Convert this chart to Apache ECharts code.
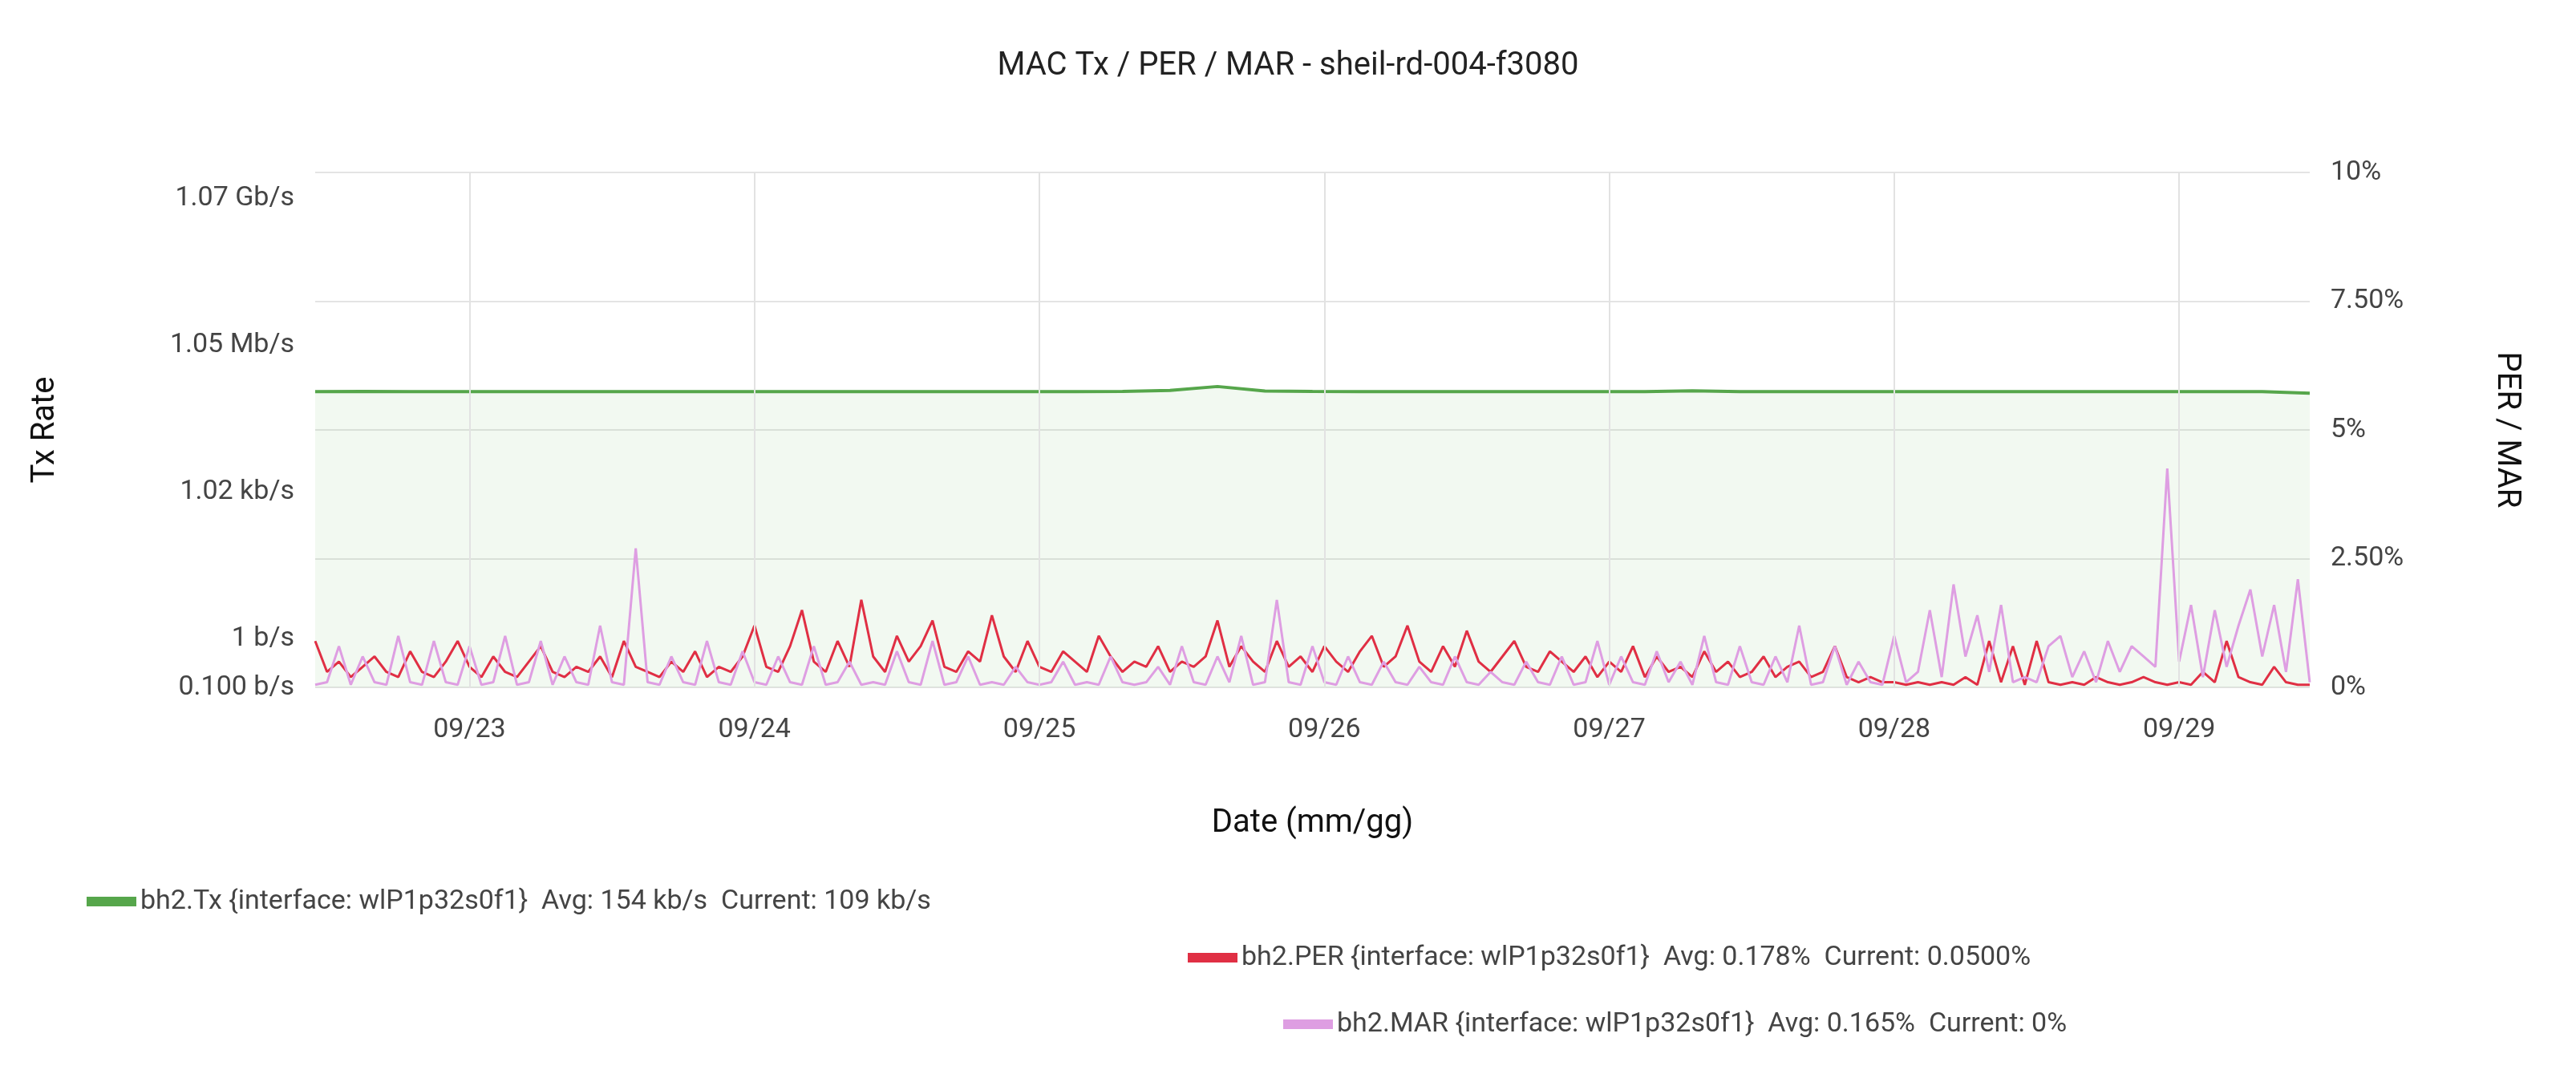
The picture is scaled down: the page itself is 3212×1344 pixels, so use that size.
<!DOCTYPE html>
<html><head><meta charset="utf-8">
<script src="https://cdn.jsdelivr.net/npm/echarts@6/dist/echarts.min.js"></script>
<style>html,body{margin:0;padding:0;background:#fff}#c{width:3212px;height:1344px}</style>
</head><body><div id="c"></div>
<script>
// x is hours since 09/22 00:00
const startHour = 11;
const endHour = 179;
const dayTicks = [24, 48, 72, 96, 120, 144, 168];
const dayLabels = ['09/23', '09/24', '09/25', '09/26', '09/27', '09/28', '09/29'];
// Tx rate in b/s, one value every 4 hours
const txValues = [118000,118500,118000,118200,118000,117800,118000,118300,118000,118100,118000,117900,118000,118200,118000,118100,118000,118400,125000,150000,121000,118500,118000,118200,118000,117900,118000,118100,118000,122000,118000,118000,117800,118000,118200,118000,117900,118000,118100,118000,117800,117500,109000];
const txTickValues = [0.1, 1, 1024, 1048576, 1073741824];
const txTickLabels = ['0.100 b/s', '1 b/s', '1.02 kb/s', '1.05 Mb/s', '1.07 Gb/s'];
// PER and MAR in %, hourly
const perValues = [0.9,0.3,0.5,0.2,0.4,0.6,0.3,0.2,0.7,0.3,0.2,0.5,0.9,
0.4,0.2,0.6,0.3,0.2,0.5,0.8,0.3,0.2,0.4,0.3,0.6,0.2,0.9,0.4,0.3,0.2,0.5,0.3,0.7,0.2,0.4,0.3,0.6,
1.2,0.4,0.3,0.8,1.5,0.5,0.3,0.9,0.4,1.7,0.6,0.3,1.0,0.5,0.8,1.3,0.4,0.3,0.7,0.5,1.4,0.6,0.3,0.9,
0.4,0.3,0.7,0.5,0.3,1.0,0.6,0.3,0.5,0.4,0.8,0.3,0.5,0.4,0.6,1.3,0.4,0.8,0.5,0.3,0.9,0.4,0.6,0.3,
0.8,0.5,0.3,0.7,1.0,0.4,0.6,1.2,0.5,0.3,0.8,0.4,1.1,0.5,0.3,0.6,0.9,0.4,0.3,0.7,0.5,0.3,0.6,0.2,
0.5,0.3,0.8,0.2,0.6,0.3,0.4,0.2,0.7,0.3,0.5,0.2,0.3,0.6,0.2,0.4,0.5,0.2,0.3,0.8,0.2,0.1,0.2,0.1,
0.1,0.05,0.1,0.05,0.1,0.05,0.2,0.05,0.9,0.1,0.8,0.05,0.9,0.1,0.05,0.1,0.05,0.2,0.1,0.05,0.1,0.2,0.1,0.05,
0.1,0.05,0.3,0.1,0.9,0.2,0.1,0.05,0.4,0.1,0.05,0.05];
const marValues = [0.05,0.1,0.8,0.05,0.6,0.1,0.05,1.0,0.1,0.05,0.9,0.1,0.05,
0.8,0.05,0.1,1.0,0.05,0.1,0.9,0.05,0.6,0.1,0.05,1.2,0.1,0.05,2.7,0.1,0.05,0.6,0.1,0.05,0.9,0.1,0.05,0.7,
0.1,0.05,0.6,0.1,0.05,0.8,0.05,0.1,0.5,0.05,0.1,0.05,0.7,0.1,0.05,0.9,0.05,0.1,0.6,0.05,0.1,0.05,0.4,0.1,
0.05,0.1,0.5,0.05,0.1,0.05,0.6,0.1,0.05,0.1,0.4,0.05,0.8,0.1,0.05,0.6,0.1,1.0,0.05,0.1,1.7,0.1,0.05,0.8,
0.1,0.05,0.6,0.1,0.05,0.5,0.1,0.05,0.4,0.1,0.05,0.6,0.1,0.05,0.3,0.1,0.05,0.5,0.1,0.05,0.6,0.05,0.1,0.9,
0.05,0.6,0.1,0.05,0.7,0.1,0.5,0.05,1.0,0.1,0.05,0.8,0.1,0.05,0.6,0.1,1.2,0.05,0.1,0.8,0.05,0.5,0.1,0.05,
1.0,0.1,0.3,1.5,0.2,2.0,0.6,1.4,0.3,1.6,0.1,0.2,0.1,0.8,1.0,0.2,0.7,0.1,0.9,0.3,0.8,0.6,0.4,4.25,
0.5,1.6,0.2,1.5,0.4,1.2,1.9,0.6,1.6,0.3,2.1,0.1];
const names = ['bh2.Tx {interface: wlP1p32s0f1}  Avg: 154 kb/s  Current: 109 kb/s',
 'bh2.PER {interface: wlP1p32s0f1}  Avg: 0.178%  Current: 0.0500%',
 'bh2.MAR {interface: wlP1p32s0f1}  Avg: 0.165%  Current: 0%'];

const lg = v => Math.log10(v);
const txData = txValues.map((v, i) => [startHour + i * 4, lg(v)]);
const perData = perValues.map((v, i) => [startHour + i, v]);
const marData = marValues.map((v, i) => [startHour + i, v]);
const font = 'Roboto, "Noto Sans", sans-serif';
const legendBase = {orient:'horizontal', icon:'rect', itemWidth:62, itemHeight:12, itemGap:20,
  textStyle:{fontSize:34, color:'#444', fontFamily:font}};
const chart = echarts.init(document.getElementById('c'));
chart.setOption({
  animation:false,
  title:{text:'MAC Tx / PER / MAR - sheil-rd-004-f3080', left:'center', top:58,
    textStyle:{fontSize:40, fontWeight:'normal', color:'#222', fontFamily:font}},
  legend:[
    Object.assign({}, legendBase, {data:[names[0]], left:103, top:1102}),
    Object.assign({}, legendBase, {data:[names[1]], left:1476, top:1172}),
    Object.assign({}, legendBase, {data:[names[2]], left:1595, top:1255})
  ],
  grid:{left:393, right:332, top:215, bottom:487},
  xAxis:{type:'value', min:startHour, max:endHour,
    name:'Date (mm/gg)', nameLocation:'middle', nameGap:150,
    nameTextStyle:{fontSize:40, color:'#111', fontFamily:font},
    axisLine:{show:false}, axisTick:{show:false}, splitLine:{show:false},
    axisLabel:{customValues:dayTicks, fontSize:34, color:'#444', margin:36, fontFamily:font,
      formatter:v => dayLabels[dayTicks.indexOf(Math.round(v))] || ''}},
  yAxis:[
    {type:'value', min:-1, max:9.57, position:'left',
     name:'Tx Rate', nameLocation:'middle', nameGap:316,
     nameTextStyle:{fontSize:40, color:'#111', fontFamily:font},
     axisLine:{show:false}, axisTick:{show:false}, splitLine:{show:false},
     axisLabel:{customValues:txTickValues.map(lg), fontSize:34, color:'#444', margin:26, fontFamily:font,
       formatter:v => { let b=0, bd=1e9; txTickValues.forEach((t,i)=>{const d=Math.abs(lg(t)-v); if(d<bd){bd=d;b=i;}}); return txTickLabels[b]; }}},
    {type:'value', min:0, max:10, interval:2.5, position:'right',
     name:'PER / MAR', nameLocation:'middle', nameGap:225, nameRotate:-90,
     nameTextStyle:{fontSize:40, color:'#111', fontFamily:font},
     axisLine:{show:false}, axisTick:{show:false},
     splitLine:{show:true, lineStyle:{color:'#e4e4e4', width:2}},
     axisLabel:{fontSize:34, color:'#444', margin:26, fontFamily:font,
       formatter:v => (v===2.5?'2.50':v===7.5?'7.50':String(v)) + '%'}}
  ],
  series:[
    {name:names[0], type:'line', yAxisIndex:0, data:txData, showSymbol:false,
     lineStyle:{color:'#56a64b', width:4}, itemStyle:{color:'#56a64b'},
     areaStyle:{color:'rgba(115,191,105,0.13)', origin:'start'},
     markLine:{silent:true, symbol:'none', label:{show:false},
       lineStyle:{color:'#e2e2e2', width:2, type:'solid'},
       data:dayTicks.map(t => ({xAxis:t}))}},
    {name:names[1], type:'line', yAxisIndex:1, data:perData, showSymbol:false,
     lineStyle:{color:'#e02f44', width:3}, itemStyle:{color:'#e02f44'}, z:3},
    {name:names[2], type:'line', yAxisIndex:1, data:marData, showSymbol:false,
     lineStyle:{color:'#de9ee2', width:3}, itemStyle:{color:'#de9ee2'}, z:4}
  ]
});
</script></body></html>
